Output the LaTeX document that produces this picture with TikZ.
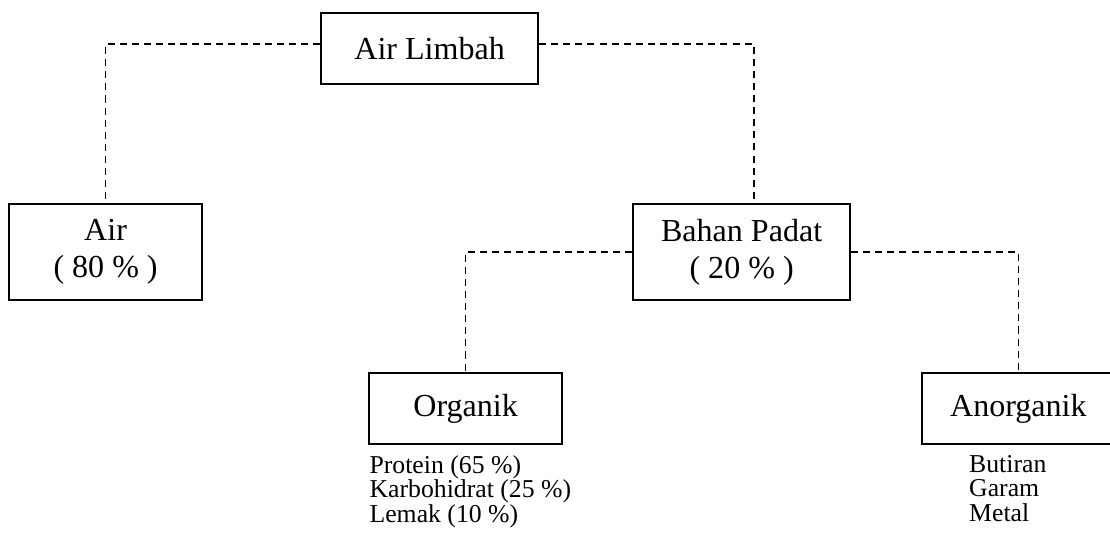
\documentclass[tikz,border=0pt]{standalone}
\usepackage{fontspec}
\setmainfont{Liberation Serif}
\usepackage{tikz}
\usetikzlibrary{positioning}

\newcommand{\bigtxt}{\fontsize{22.8}{26.3}\selectfont}
\newcommand{\smalltxt}{\fontsize{18.3}{17.6}\selectfont}

\begin{document}
\begin{tikzpicture}[
    box/.style={draw, line width=1.4pt, align=center, inner sep=0pt, font=\bigtxt},
    link/.style={line width=1.1pt, dash pattern=on 5pt off 3.6pt},
    list/.style={align=left, inner sep=0pt, font=\smalltxt}]
            \useasboundingbox (0,0) rectangle (27.75,-13.475);
            % Nodos
            \node[box, minimum width=5.425cm, minimum height=1.775cm] (al) at (10.74,-1.21) {Air Limbah};
            \node[box, minimum width=4.825cm, minimum height=2.4cm] (air) at (2.64,-6.3) {Air\\( 80 \% )};
            \node[box, minimum width=5.425cm, minimum height=2.4cm] (bp) at (18.54,-6.3) {Bahan Padat\\( 20 \% )};
            \node[box, minimum width=4.825cm, minimum height=1.775cm] (org) at (11.64,-10.21) {Organik};
            \node[box, minimum width=4.825cm, minimum height=1.775cm] (anorg) at (25.46,-10.21) {Anorganik};
            \node[list, below=0.25cm of org.south west, anchor=north west, xshift=0.03cm] (orgList) {Protein (65 \%)\\Karbohidrat (25 \%)\\Lemak (10 \%)};
            \node[list, below=0.25cm of anorg.south west, anchor=north west, xshift=1.2cm] (anorgList) {Butiran\\Garam\\Metal};

            % Garis
            \draw[link] ([yshift=0.11cm]al.west) -| (air.north);
            \draw[link] ([yshift=0.11cm]al.east) -| ([xshift=0.31cm]bp.north);
            \draw[link] (bp.west) -| (org.north);
            \draw[link] (bp.east) -| (anorg.north);
          \end{tikzpicture}
\end{document}
